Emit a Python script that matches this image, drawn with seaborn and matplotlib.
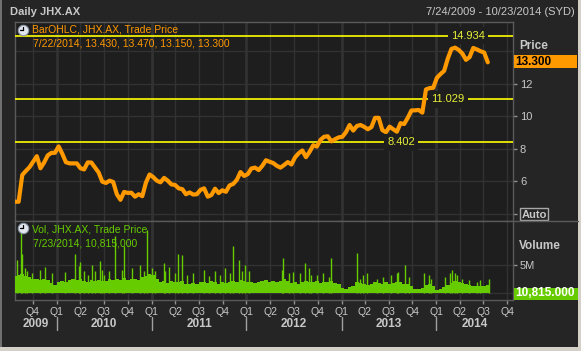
import numpy as np
import pandas as pd
import matplotlib
matplotlib.use("Agg")
import matplotlib.pyplot as plt
import matplotlib.dates as mdates
import matplotlib.transforms as mtrans
from matplotlib.patches import Rectangle
from matplotlib.lines import Line2D
import seaborn as sns

# --- DATA ---
start_date = "2009-07-24"
end_date = "2014-10-23"

# closing price, one reading every 14 days from start_date
price_close = [
    4.76, 4.76, 6.40, 6.65, 6.88, 7.22, 7.55, 6.81, 7.16, 7.60,
    7.75, 7.76, 8.15, 7.70, 7.18, 7.11, 7.11, 7.11, 6.81, 6.74,
    7.17, 7.16, 6.85, 6.55, 5.99, 5.91, 6.05, 5.97, 5.22, 4.88,
    5.36, 5.30, 5.31, 5.07, 5.22, 5.10, 5.93, 6.43, 6.27, 6.05,
    5.95, 6.22, 6.05, 5.82, 5.79, 5.58, 5.53, 5.22, 5.33, 5.20,
    5.22, 5.49, 5.58, 5.07, 5.17, 5.56, 5.29, 5.46, 5.37, 5.76,
    5.85, 6.10, 6.58, 6.34, 6.45, 6.80, 6.85, 6.70, 6.96, 7.30,
    7.21, 7.13, 6.96, 6.85, 7.01, 7.19, 7.04, 7.48, 7.73, 7.90,
    7.49, 7.82, 8.22, 8.14, 8.55, 8.74, 8.77, 8.46, 8.59, 8.70,
    8.74, 9.02, 9.46, 9.12, 9.40, 9.46, 9.35, 9.20, 9.33, 9.90,
    9.90, 9.15, 9.02, 9.36, 9.20, 9.05, 9.57, 9.52, 9.90, 10.35,
    10.36, 10.38, 10.22, 11.64, 11.72, 11.74, 12.35, 12.58, 12.78, 13.53,
    14.12, 14.20, 14.06, 13.84, 13.45, 13.62, 14.18, 14.09, 13.98, 13.90,
    13.30,
]

# typical volume (millions) over the same 14-day steps
vol_base = [
    3.0, 3.2, 3.4, 3.0, 2.8, 2.6, 2.5, 2.4, 2.6, 2.3,
    1.8, 1.4, 2.0, 2.2, 2.0, 2.4, 2.6, 2.3, 2.5, 2.2,
    2.0, 2.3, 2.1, 2.4, 2.2, 2.1, 2.5, 2.3, 2.6, 2.4,
    2.7, 2.3, 2.5, 2.6, 2.4, 2.8, 3.0, 3.4, 3.2, 2.5,
    2.0, 2.2, 1.8, 2.1, 1.9, 2.0, 2.2, 1.7, 1.6, 1.8,
    1.7, 1.9, 2.0, 1.8, 2.1, 1.9, 1.7, 2.0, 1.8, 1.9,
    2.2, 2.0, 2.3, 2.1, 1.9, 2.0, 1.8, 2.0, 2.2, 2.4,
    2.0, 2.1, 1.9, 2.2, 2.5, 2.1, 1.8, 1.9, 1.7, 2.0,
    2.2, 2.0, 1.9, 2.1, 1.8, 2.0, 1.9, 2.2, 1.8, 1.6,
    0.9, 0.8, 1.0, 1.3, 2.0, 1.8, 1.6, 1.5, 1.7, 2.0,
    1.8, 1.6, 1.9, 1.7, 1.8, 1.9, 2.0, 1.7, 1.6, 1.2,
    0.8, 0.8, 0.9, 1.5, 1.6, 1.3, 0.6, 0.7, 1.0, 1.5,
    1.8, 2.2, 2.0, 1.8, 1.7, 1.4, 1.3, 1.2, 1.3, 1.2,
    1.4,
]

# single-day volume spikes (millions)
spike_dates = [
    "2009-07-31", "2009-08-18", "2009-08-21", "2009-08-31", "2009-09-08",
    "2009-09-28", "2009-10-29", "2009-11-18", "2009-12-14", "2010-02-01",
    "2010-03-12", "2010-03-26", "2010-04-01", "2010-04-14", "2010-04-30",
    "2010-05-17", "2010-05-28", "2010-06-17", "2010-06-24", "2010-06-30",
    "2010-07-20", "2010-08-13", "2010-09-08", "2010-09-17", "2010-10-18",
    "2010-11-18", "2010-12-01", "2010-12-14", "2011-01-04", "2011-01-14",
    "2011-02-16", "2011-02-23", "2011-03-07", "2011-04-01", "2011-04-12",
    "2011-04-27", "2011-05-17", "2011-06-10", "2011-07-20", "2011-08-08",
    "2011-09-02", "2011-09-22", "2011-10-11", "2011-10-31", "2011-11-11",
    "2011-12-02", "2011-12-15", "2011-12-27", "2012-01-10", "2012-05-15",
    "2012-05-22", "2012-06-11", "2012-06-29", "2012-07-25", "2012-08-13",
    "2012-08-27", "2012-09-07", "2012-09-27", "2012-10-23", "2012-11-12",
    "2012-11-20", "2013-02-28", "2013-03-13", "2013-03-26", "2013-04-08",
    "2013-05-16", "2013-06-11", "2013-07-12", "2013-08-01", "2013-08-07",
    "2013-09-02", "2013-09-16", "2013-11-15", "2013-12-02", "2013-12-13",
    "2014-02-03", "2014-02-21", "2014-03-03", "2014-03-12", "2014-03-20",
    "2014-04-08", "2014-05-05", "2014-06-05", "2014-06-18", "2014-07-22",
]
spike_vols = [
    5.9, 11.6, 7.0, 4.5, 3.9,
    3.6, 4.1, 4.6, 3.6, 3.8,
    6.9, 4.8, 5.6, 3.9, 3.3,
    5.1, 3.9, 5.7, 4.1, 3.3,
    3.9, 10.2, 4.2, 8.5, 4.5,
    5.1, 3.9, 11.3, 4.5, 3.9,
    5.4, 3.9, 4.6, 3.6, 6.9,
    6.8, 3.3, 3.6, 4.1, 3.0,
    4.0, 3.3, 4.4, 3.6, 8.4,
    6.0, 3.9, 5.1, 3.9, 4.1,
    6.2, 3.5, 3.8, 3.5, 5.3,
    4.5, 3.2, 3.2, 3.5, 2.9,
    6.2, 7.1, 2.6, 3.2, 3.6,
    2.6, 2.9, 3.2, 3.5, 3.8,
    5.0, 2.9, 3.5, 3.2, 2.6,
    2.9, 3.5, 4.1, 3.5, 3.2,
    2.6, 2.3, 2.0, 2.3, 2.5,
]

levels = [14.934, 11.029, 8.402]
level_labels = ["14.934", "11.029", "8.402"]
level_label_dates = ["2014-05-03", "2014-02-15", "2013-08-18"]

years = [2009, 2010, 2011, 2012, 2013, 2014]

# --- STYLE ---
BG = "#252525"
PLOT_BG = "#1e1e1e"
GRID = "#323232"
SPINE = "#5a5a5a"
TXT = "#c8c8c8"
ORANGE = "#ff9900"
GREEN = "#66cc00"
YELLOW = "#ffff00"
LEVEL_TXT = "#e8f038"

sns.set_theme(style="dark", rc={
    "figure.facecolor": BG,
    "axes.facecolor": PLOT_BG,
    "axes.edgecolor": SPINE,
    "axes.grid": False,
})
plt.rcParams["font.family"] = ["Liberation Sans", "DejaVu Sans"]

W, H = 581, 351
fig = plt.figure(figsize=(W / 100, H / 100), dpi=100)


def fx(px):
    return px / W


def fy(py):
    return 1 - py / H


def ftext(px, py, s, **kw):
    fig.text(fx(px), fy(py), s, **kw)


ax_p = fig.add_axes([fx(15), fy(221), fx(513) - fx(15), fy(22) - fy(221)])
ax_v = fig.add_axes([fx(15), fy(300), fx(513) - fx(15), fy(221) - fy(300)], sharex=ax_p)

price_dates = pd.date_range(start_date, periods=len(price_close), freq="14D")
vol_dates = pd.date_range(start_date, periods=len(vol_base), freq="14D")
spikes = pd.to_datetime(spike_dates)
xmin, xmax = pd.Timestamp(start_date), pd.Timestamp(end_date)
quarters = pd.date_range("2009-10-01", "2014-10-01", freq="QS")

# grid
for ax in (ax_p, ax_v):
    for q in quarters:
        lw = 2.0 if q.month == 1 else 1.0
        ax.axvline(q, color=GRID, lw=lw, zorder=0)
    for s in ax.spines.values():
        s.set_color(SPINE)
        s.set_linewidth(1)
for t in [4, 6, 8, 10, 12, 14]:
    ax_p.axhline(t, color=GRID, lw=1, zorder=0)
for t in [0, 5]:
    ax_v.axhline(t, color=GRID, lw=1, zorder=0)

# price
sns.lineplot(x=price_dates, y=price_close, ax=ax_p, color=ORANGE, linewidth=3, zorder=4)
for lvl, lab, d in zip(levels, level_labels, level_label_dates):
    ax_p.axhline(lvl, color=YELLOW, lw=1.2, zorder=3)
    ax_p.text(pd.Timestamp(d), lvl, lab, color=LEVEL_TXT, fontsize=8, ha="center", va="center",
              zorder=5, bbox=dict(facecolor=PLOT_BG, edgecolor="none", pad=2.5))
ax_p.set_xlim(xmin, xmax)
ax_p.set_ylim(3.58, 15.77)
ax_p.set_xlabel("")
ax_p.set_ylabel("")
ax_p.yaxis.tick_right()
ax_p.set_yticks([4, 6, 8, 10, 12])
ax_p.set_yticklabels(["", "6", "8", "10", "12"])
ax_p.tick_params(axis="y", right=True, left=False, length=3, width=1, color="#909090",
                 labelcolor=TXT, labelsize=8, pad=2)
ax_p.tick_params(axis="x", bottom=False, labelbottom=False)

# volume
ax_v.bar(vol_dates, vol_base, width=14, color=GREEN, linewidth=0, zorder=3)
ax_v.vlines(spikes, 0, spike_vols, color=GREEN, lw=1, zorder=3)
ax_v.set_ylim(-1.25, 12.9)
ax_v.yaxis.tick_right()
ax_v.set_yticks([0, 5])
ax_v.set_yticklabels(["", "5M"])
ax_v.tick_params(axis="y", right=True, left=False, length=3, width=1, color="#909090",
                 labelcolor=TXT, labelsize=8, pad=2)
ax_v.set_xticks(quarters)
ax_v.set_xticklabels([f"Q{q.quarter}" for q in quarters])
ax_v.tick_params(axis="x", bottom=True, length=3, width=1, color="#909090",
                 labelcolor=TXT, labelsize=7.5, pad=2)
ax_v.set_xlim(xmin, xmax)

# year labels and separators
tr = mtrans.blended_transform_factory(ax_v.transData, fig.transFigure)
for y in years:
    a = max(pd.Timestamp(f"{y}-01-01"), xmin)
    b = min(pd.Timestamp(f"{y + 1}-01-01"), xmax)
    mid = mdates.date2num(a + (b - a) / 2)
    fig.text(mid, fy(324), str(y), transform=tr, ha="center", va="center",
             color=TXT, fontsize=8.5, weight="bold")
    if y > 2009:
        xs = mdates.date2num(pd.Timestamp(f"{y}-01-01"))
        fig.add_artist(Line2D([xs, xs], [fy(317), fy(330)],
                              transform=tr, color="#a0a0a0", lw=1))

# header
ftext(10, 12, "Daily JHX.AX", color=TXT, fontsize=8, weight="bold", va="center")
ftext(575, 12, "7/24/2009 - 10/23/2014 (SYD)", color=TXT, fontsize=8, ha="right", va="center")


def clock(px, py):
    fig.add_artist(Line2D([fx(px)], [fy(py)], marker="o", markersize=7.5,
                          markerfacecolor="#e2e6ee", markeredgecolor="#8a96a6",
                          markeredgewidth=0.8, transform=fig.transFigure))
    fig.add_artist(Line2D([fx(px), fx(px)], [fy(py), fy(py - 3)], color="black", lw=0.9,
                          transform=fig.transFigure))
    fig.add_artist(Line2D([fx(px), fx(px - 3)], [fy(py), fy(py)], color="black", lw=0.9,
                          transform=fig.transFigure))


clock(23, 29.5)
ftext(32, 30, "BarOHLC, JHX.AX, Trade Price", color=ORANGE, fontsize=7.5, va="center")
ftext(33, 44, "7/22/2014, 13.430, 13.470, 13.150, 13.300", color=ORANGE, fontsize=7.5, va="center")
clock(23, 228)
ftext(32, 229, "Vol, JHX.AX, Trade Price", color=GREEN, fontsize=7.5, va="center")
ftext(33, 243, "7/23/2014, 10,815,000", color=GREEN, fontsize=7.5, va="center")

# right-hand labels
ftext(519, 46, "Price", color=TXT, fontsize=8.5, weight="bold", va="center")
fig.add_artist(Rectangle((fx(514), fy(68)), 63 / W, 12.5 / H, transform=fig.transFigure,
                         facecolor=ORANGE, edgecolor="none"))
ftext(515, 62, "13.300", color="black", fontsize=8.5, weight="bold", va="center")
fig.add_artist(Rectangle((fx(520), fy(220)), 28 / W, 12 / H, transform=fig.transFigure,
                         facecolor="none", edgecolor="#a8a8a8", lw=1))
ftext(534, 214.5, "Auto", color=TXT, fontsize=8, weight="bold", ha="center", va="center")
ftext(519, 246, "Volume", color=TXT, fontsize=8.5, weight="bold", va="center")
fig.add_artist(Rectangle((fx(514), fy(299.5)), 64 / W, 12 / H, transform=fig.transFigure,
                         facecolor=GREEN, edgecolor="none"))
ftext(515, 293.5, "10,815.000", color="white", fontsize=8.5, weight="bold", va="center")
fig.add_artist(Line2D([fx(513), fx(578)], [fy(221), fy(221)], color=SPINE, lw=1,
                      transform=fig.transFigure))

# window border
fig.add_artist(Rectangle((0, 0), 2 / W, 1, transform=fig.transFigure, facecolor="#707070",
                         edgecolor="none"))
fig.add_artist(Rectangle((0, 0), 1, 4 / H, transform=fig.transFigure, facecolor="#d4d0c8",
                         edgecolor="none"))
fig.add_artist(Rectangle((fx(578), 0), 3 / W, 1, transform=fig.transFigure, facecolor="#d4d0c8",
                         edgecolor="none"))

fig.savefig("out.png", dpi=100, facecolor=BG)
